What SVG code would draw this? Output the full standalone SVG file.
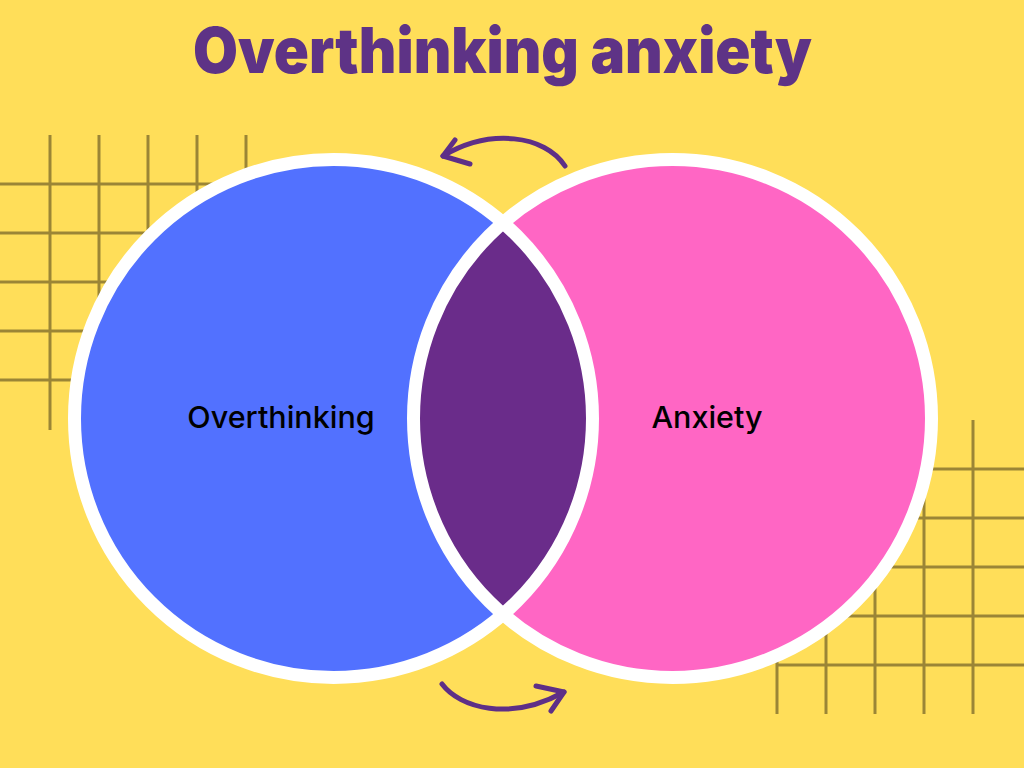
<svg xmlns="http://www.w3.org/2000/svg" width="1024" height="768" viewBox="0 0 1024 768">
  <defs>
    <style>
      .grid line { stroke: #9B8536; stroke-width: 3; }
      .ring { fill: none; stroke: #FFFFFF; stroke-width: 13; }
      .label { font-family: Inter, "Liberation Sans", sans-serif; font-size: 30.5px; font-weight: 500; fill: #000000; text-anchor: middle; }
      .title { font-family: Inter, "Liberation Sans", sans-serif; font-size: 63px; font-weight: 900; fill: #5E3386; text-anchor: middle; }
      .arrow { fill: none; stroke: #5E2F87; stroke-width: 5; stroke-linecap: round; stroke-linejoin: round; }
    </style>
  </defs>
  <rect width="1024" height="768" fill="#FFDE59"/>
  <g id="grid-left" class="grid">
    <line x1="50" y1="135" x2="50" y2="430"/>
    <line x1="99" y1="135" x2="99" y2="430"/>
    <line x1="148" y1="135" x2="148" y2="430"/>
    <line x1="197" y1="135" x2="197" y2="430"/>
    <line x1="246" y1="135" x2="246" y2="430"/>
    <line x1="0" y1="184" x2="295" y2="184"/>
    <line x1="0" y1="233" x2="295" y2="233"/>
    <line x1="0" y1="282" x2="295" y2="282"/>
    <line x1="0" y1="331" x2="295" y2="331"/>
    <line x1="0" y1="380" x2="295" y2="380"/>
  </g>
  <g id="grid-right" class="grid">
    <line x1="777" y1="420" x2="777" y2="714"/>
    <line x1="826" y1="420" x2="826" y2="714"/>
    <line x1="875" y1="420" x2="875" y2="714"/>
    <line x1="924" y1="420" x2="924" y2="714"/>
    <line x1="973" y1="420" x2="973" y2="714"/>
    <line x1="728" y1="469" x2="1024" y2="469"/>
    <line x1="728" y1="518" x2="1024" y2="518"/>
    <line x1="728" y1="567" x2="1024" y2="567"/>
    <line x1="728" y1="616" x2="1024" y2="616"/>
    <line x1="777" y1="665" x2="1024" y2="665"/>
  </g>
  <text class="title" x="502.5" y="73" textLength="619" lengthAdjust="spacingAndGlyphs">Overthinking anxiety</text>
  <g id="node-overthinking">
    <circle cx="333.5" cy="418.5" r="259" fill="#5271FF"/>
  </g>
  <g id="node-anxiety">
    <circle cx="672.5" cy="418.5" r="259" fill="#FF66C4"/>
  </g>
  <g id="node-overlap">
    <path d="M503,222.7 A259,259 0 0 1 503,614.3 A259,259 0 0 1 503,222.7 Z" fill="#6A2C8A"/>
  </g>
  <g id="rings">
    <circle class="ring" cx="333.5" cy="418.5" r="259"/>
    <circle class="ring" cx="672.5" cy="418.5" r="259"/>
  </g>
  <text class="label" x="281" y="428">Overthinking</text>
  <text class="label" x="707" y="428">Anxiety</text>
  <g id="connectors">
    <path class="arrow" d="M565,166 C545,135 490,128 443,156"/>
    <path class="arrow" d="M455,140 L443,156 L470,164"/>
    <path class="arrow" d="M442,684 C460,708 510,722 564,692"/>
    <path class="arrow" d="M536,686 L564,692 L551,711"/>
  </g>
</svg>
